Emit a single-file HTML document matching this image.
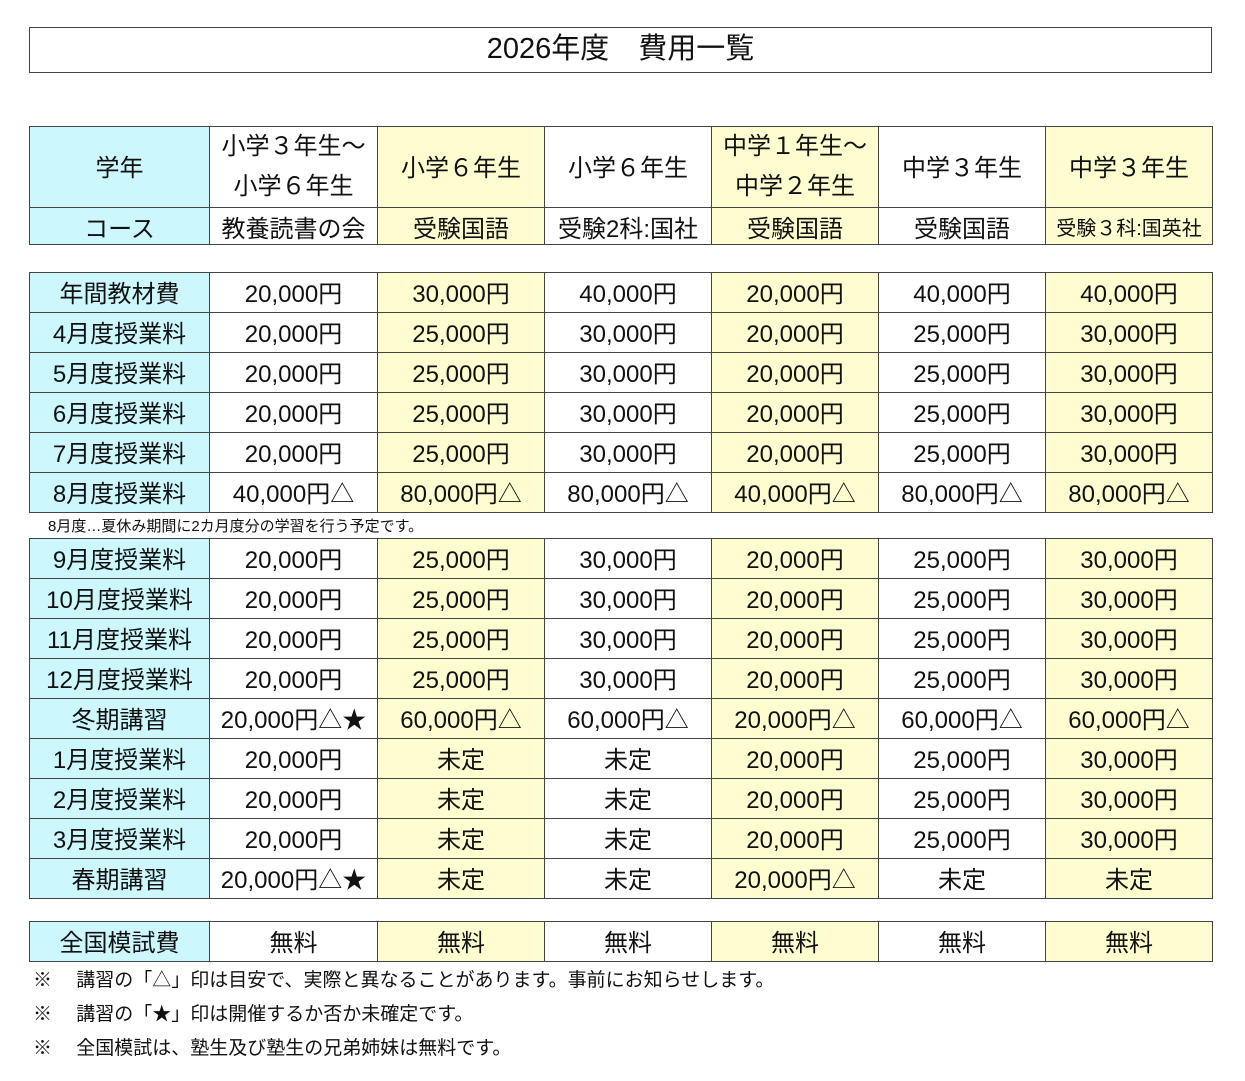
<!DOCTYPE html>
<html><head><meta charset="utf-8"><style>
body{margin:0;width:1245px;height:1081px;background:#fff;position:relative;font-family:"Liberation Sans","Noto Sans CJK JP",sans-serif;color:#111;overflow:hidden}
.title{position:absolute;left:29px;top:27px;width:1181px;height:44px;border:1px solid #444;text-align:center;font-size:29px;line-height:42px}
table{position:absolute;left:29px;border-collapse:collapse;table-layout:fixed;width:1184px}
td{border:1px solid #444;text-align:center;font-size:24px;padding:0 0 3px 0;white-space:nowrap;overflow:hidden;box-sizing:border-box}
td.c{background:#ccf7fc}
tr td:nth-child(3),tr td:nth-child(5),tr td:nth-child(7){background:#fefdd0}
tr td.c{background:#ccf7fc}
.r td{height:40px}
.h td{padding:0}
.note{position:absolute;font-size:19px}
</style></head><body>
<div class="title">2026年度　費用一覧</div>
<table style="top:126px" class="h">
<colgroup><col style="width:180px"><col style="width:168px"><col style="width:167px"><col style="width:167px"><col style="width:167px"><col style="width:167px"><col style="width:167px"></colgroup>
<tr><td class="c" style="height:79px;padding-bottom:4px">学年</td><td style="line-height:40px;padding-bottom:0">小学３年生～<br>小学６年生</td><td style="padding-bottom:4px">小学６年生</td><td style="padding-bottom:4px">小学６年生</td><td style="line-height:40px">中学１年生～<br>中学２年生</td><td style="padding-bottom:4px">中学３年生</td><td style="padding-bottom:4px">中学３年生</td></tr>
<tr><td class="c" style="height:37px">コース</td><td>教養読書の会</td><td>受験国語</td><td>受験2科:国社</td><td>受験国語</td><td>受験国語</td><td style="font-size:20px">受験３科:国英社</td></tr>
</table>
<table style="top:272px" class="r">
<colgroup><col style="width:180px"><col style="width:168px"><col style="width:167px"><col style="width:167px"><col style="width:167px"><col style="width:167px"><col style="width:167px"></colgroup>
<tr class="r"><td class="c">年間教材費</td><td>20,000円</td><td>30,000円</td><td>40,000円</td><td>20,000円</td><td>40,000円</td><td>40,000円</td></tr>
<tr class="r"><td class="c">4月度授業料</td><td>20,000円</td><td>25,000円</td><td>30,000円</td><td>20,000円</td><td>25,000円</td><td>30,000円</td></tr>
<tr class="r"><td class="c">5月度授業料</td><td>20,000円</td><td>25,000円</td><td>30,000円</td><td>20,000円</td><td>25,000円</td><td>30,000円</td></tr>
<tr class="r"><td class="c">6月度授業料</td><td>20,000円</td><td>25,000円</td><td>30,000円</td><td>20,000円</td><td>25,000円</td><td>30,000円</td></tr>
<tr class="r"><td class="c">7月度授業料</td><td>20,000円</td><td>25,000円</td><td>30,000円</td><td>20,000円</td><td>25,000円</td><td>30,000円</td></tr>
<tr class="r"><td class="c">8月度授業料</td><td>40,000円△</td><td>80,000円△</td><td>80,000円△</td><td>40,000円△</td><td>80,000円△</td><td>80,000円△</td></tr>
</table>
<div class="note" style="left:48px;top:515px;font-size:15px">8月度…夏休み期間に2カ月度分の学習を行う予定です。</div>
<table style="top:538px">
<colgroup><col style="width:180px"><col style="width:168px"><col style="width:167px"><col style="width:167px"><col style="width:167px"><col style="width:167px"><col style="width:167px"></colgroup>
<tr class="r"><td class="c">9月度授業料</td><td>20,000円</td><td>25,000円</td><td>30,000円</td><td>20,000円</td><td>25,000円</td><td>30,000円</td></tr>
<tr class="r"><td class="c">10月度授業料</td><td>20,000円</td><td>25,000円</td><td>30,000円</td><td>20,000円</td><td>25,000円</td><td>30,000円</td></tr>
<tr class="r"><td class="c">11月度授業料</td><td>20,000円</td><td>25,000円</td><td>30,000円</td><td>20,000円</td><td>25,000円</td><td>30,000円</td></tr>
<tr class="r"><td class="c">12月度授業料</td><td>20,000円</td><td>25,000円</td><td>30,000円</td><td>20,000円</td><td>25,000円</td><td>30,000円</td></tr>
<tr class="r"><td class="c">冬期講習</td><td>20,000円△★</td><td>60,000円△</td><td>60,000円△</td><td>20,000円△</td><td>60,000円△</td><td>60,000円△</td></tr>
<tr class="r"><td class="c">1月度授業料</td><td>20,000円</td><td>未定</td><td>未定</td><td>20,000円</td><td>25,000円</td><td>30,000円</td></tr>
<tr class="r"><td class="c">2月度授業料</td><td>20,000円</td><td>未定</td><td>未定</td><td>20,000円</td><td>25,000円</td><td>30,000円</td></tr>
<tr class="r"><td class="c">3月度授業料</td><td>20,000円</td><td>未定</td><td>未定</td><td>20,000円</td><td>25,000円</td><td>30,000円</td></tr>
<tr class="r"><td class="c">春期講習</td><td>20,000円△★</td><td>未定</td><td>未定</td><td>20,000円△</td><td>未定</td><td>未定</td></tr>
</table>
<table style="top:921px">
<colgroup><col style="width:180px"><col style="width:168px"><col style="width:167px"><col style="width:167px"><col style="width:167px"><col style="width:167px"><col style="width:167px"></colgroup>
<tr class="r"><td class="c">全国模試費</td><td>無料</td><td>無料</td><td>無料</td><td>無料</td><td>無料</td><td>無料</td></tr>
</table>
<div class="note" style="left:33px;top:965px">※　 講習の「△」印は目安で、実際と異なることがあります。事前にお知らせします。</div>
<div class="note" style="left:33px;top:999px">※　 講習の「★」印は開催するか否か未確定です。</div>
<div class="note" style="left:33px;top:1033px">※　 全国模試は、塾生及び塾生の兄弟姉妹は無料です。</div>
</body></html>
